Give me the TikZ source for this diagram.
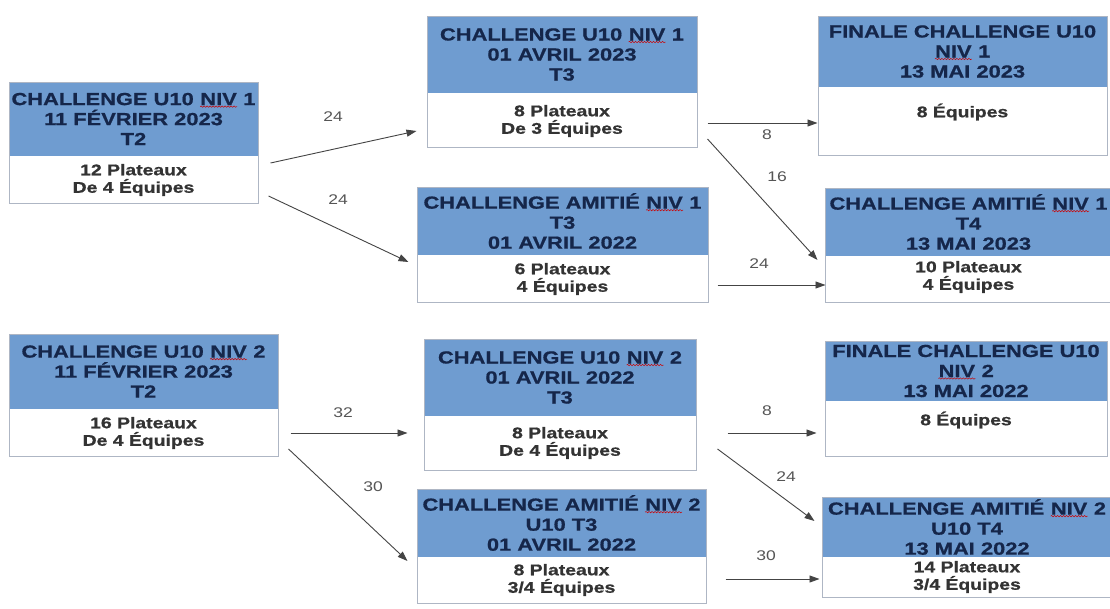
\documentclass[tikz,border=0pt]{standalone}
\usepackage{fontspec}
\setmainfont{Liberation Sans}[FakeStretch=1.25, BoldFeatures={FakeBold=0.8}]
\usetikzlibrary{arrows.meta,calc,decorations.pathmorphing}
\definecolor{headblue}{HTML}{6F9CD0}
\definecolor{headtxt}{HTML}{15264A}
\definecolor{bodytxt}{HTML}{333333}
\definecolor{labtxt}{HTML}{555555}
\definecolor{bordercol}{HTML}{AEB6C4}
\definecolor{linecol}{HTML}{444444}
\newcommand{\nivw}[1]{\tikz[baseline=(nivtxt.base)]{\node[inner sep=0pt, text=headtxt] (nivtxt) {#1};\draw[red!80!black, line width=0.5pt, decorate, decoration={snake, amplitude=0.7pt, segment length=3pt}] ([yshift=-1.5pt]nivtxt.base west) -- ([yshift=-1.5pt]nivtxt.base east);}}
\tikzset{
  cardbox/.style={draw=bordercol, line width=1pt, fill=white, inner sep=0pt},
  headfill/.style={fill=headblue},
  headtext/.style={font=\fontsize{17.5}{20}\selectfont\bfseries, text=headtxt, align=center, inner sep=0pt},
  bodytext/.style={font=\fontsize{15.5}{17.5}\selectfont\bfseries, text=bodytxt, align=center, inner sep=0pt},
  flowarrow/.style={draw=linecol, line width=0.9pt, -{Triangle[length=10pt,width=7pt]}},
  flowlabel/.style={font=\fontsize{14}{16}\selectfont, text=labtxt, inner sep=0pt},
}
% \card{name}{x1}{y1}{x2}{yh}{y2}{header}{body}{body y}
\newcommand{\card}[9]{%
  \node[cardbox, minimum width={(#4-#2)*1pt}, minimum height={(#6-#3)*1pt}] (#1) at ({(#2+#4)/2},{(#3+#6)/2}) {};
  \fill[headfill] (#2,#3) rectangle (#4,#5);
  \draw[bordercol, line width=1pt] (#2,#3) rectangle (#4,#6);
  \node[headtext] (#1-h) at ({(#2+#4)/2},{(#3+#5)/2}) {#7};
  \node[bodytext] (#1-b) at ({(#2+#4)/2},#9) {#8};
}
\begin{document}
\begin{tikzpicture}[x=1pt,y=-1pt]
\useasboundingbox (0,0) rectangle (1110,608);
\clip (0,0) rectangle (1110,608);
\fill[white] (0,0) rectangle (1110,608);

\card{A1}{9}{82}{258}{156}{203}{CHALLENGE U10 \nivw{NIV} 1\\11 FÉVRIER 2023\\T2}{12 Plateaux\\De 4 Équipes}{180}
\card{B1}{427}{16}{697}{93}{147}{CHALLENGE U10 \nivw{NIV} 1\\01 AVRIL 2023\\T3}{8 Plateaux\\De 3 Équipes}{121}
\card{B2}{417}{187}{708}{255}{302}{CHALLENGE AMITIÉ \nivw{NIV} 1\\T3\\01 AVRIL 2022}{6 Plateaux\\4 Équipes}{279}
\card{C1}{818}{16}{1107}{87}{155}{FINALE CHALLENGE U10\\\nivw{NIV} 1\\13 MAI 2023}{8 Équipes}{112}
\card{C2}{825}{188}{1112}{256}{302}{CHALLENGE AMITIÉ \nivw{NIV} 1\\T4\\13 MAI 2023}{10 Plateaux\\4 Équipes}{277}

\card{A2}{9}{334}{278}{409}{456}{CHALLENGE U10 \nivw{NIV} 2\\11 FÉVRIER 2023\\T2}{16 Plateaux\\De 4 Équipes}{433}
\card{B3}{424}{339}{696}{416}{470}{CHALLENGE U10 \nivw{NIV} 2\\01 AVRIL 2022\\T3}{8 Plateaux\\De 4 Équipes}{443}
\card{B4}{417}{489}{706}{557}{603}{CHALLENGE AMITIÉ \nivw{NIV} 2\\U10 T3\\01 AVRIL 2022}{8 Plateaux\\3/4 Équipes}{580}
\card{C3}{825}{341}{1107}{401}{456}{FINALE CHALLENGE U10\\\nivw{NIV} 2\\13 MAI 2022}{8 Équipes}{420}
\card{C4}{822}{497}{1112}{557}{597}{CHALLENGE AMITIÉ \nivw{NIV} 2\\U10 T4\\13 MAI 2022}{14 Plateaux\\3/4 Équipes}{577}

% connectors
\draw[flowarrow] ($(A1.east)+(12,20.5)$) -- ($(B1.west)+(-10,49.5)$);
\draw[flowarrow] ($(A1.east)+(10,53.5)$) -- ($(B2.west)+(-8,17.5)$);
\draw[flowarrow] ($(B1.east)+(10,41.5)$) -- ($(C1.west)+(0,37.5)$);
\draw[flowarrow] ($(B1.east)+(10,57.5)$) -- ($(C2.west)+(-7,15)$);
\draw[flowarrow] ($(B2.east)+(9,40.5)$) -- ($(C2.west)+(1,40)$);
\draw[flowarrow] ($(A2.east)+(12,38)$) -- ($(B3.west)+(-16,28.5)$);
\draw[flowarrow] ($(A2.east)+(10,54)$) -- ($(B4.west)+(-9,15)$);
\draw[flowarrow] ($(B3.east)+(31,28.5)$) -- ($(C3.west)+(-8,34.5)$);
\draw[flowarrow] ($(B3.east)+(21,44.5)$) -- ($(C4.west)+(-7,-26)$);
\draw[flowarrow] ($(B4.east)+(19,33)$) -- ($(C4.west)+(-2,32)$);

% labels
\node[flowlabel] (l1) at (333,117) {24};
\node[flowlabel] (l2) at (338,200) {24};
\node[flowlabel] (l3) at (767,135) {8};
\node[flowlabel] (l4) at (777,177) {16};
\node[flowlabel] (l5) at (759,264) {24};
\node[flowlabel] (l6) at (343,413) {32};
\node[flowlabel] (l7) at (373,487) {30};
\node[flowlabel] (l8) at (767,411) {8};
\node[flowlabel] (l9) at (786,477) {24};
\node[flowlabel] (l10) at (766,556) {30};
\end{tikzpicture}
\end{document}
